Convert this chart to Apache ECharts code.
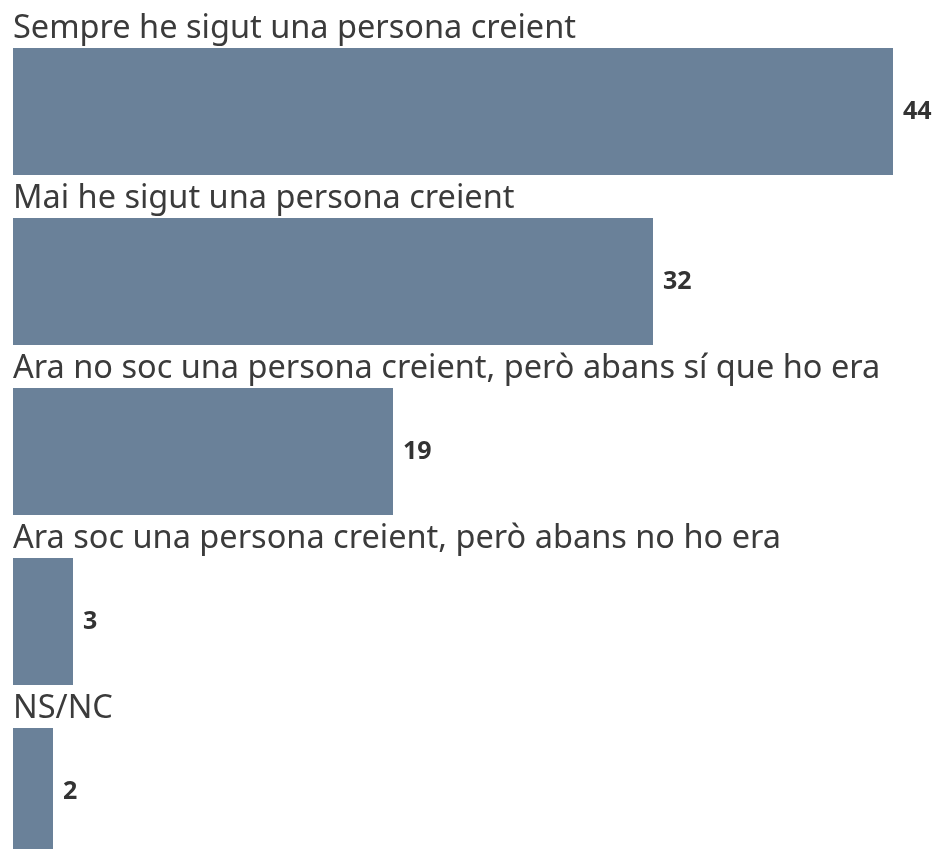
<!DOCTYPE html>
<html>
<head>
<meta charset="utf-8">
<script src="https://cdn.jsdelivr.net/npm/echarts@6/dist/echarts.min.js"></script>
<style>
  html, body { margin: 0; padding: 0; background: #fff; }
  #chart { width: 940px; height: 849px; }
</style>
</head>
<body>
<div id="chart"></div>
<script>
const categories = [
  'Sempre he sigut una persona creient',
  'Mai he sigut una persona creient',
  'Ara no soc una persona creient, però abans sí que ho era',
  'Ara soc una persona creient, però abans no ho era',
  'NS/NC'
];
const values = [44, 32, 19, 3, 2];

const chart = echarts.init(document.getElementById('chart'));
chart.setOption({
  animation: false,
  grid: {
    left: 13, right: 47, top: 26.5, height: 850,
    containLabel: false,
    outerBoundsMode: 'none'
  },
  xAxis: {
    type: 'value', min: 0, max: 44,
    show: false
  },
  yAxis: {
    type: 'category',
    data: categories,
    inverse: true,
    axisLine: { show: false },
    axisTick: { show: false },
    axisLabel: {
      inside: true,
      margin: 0,
      align: 'left',
      verticalAlign: 'bottom',
      padding: [0, 0, 66, 0],
      fontFamily: 'Noto Sans',
      fontSize: 32.5,
      color: '#3b3b3b'
    }
  },
  series: [{
    type: 'bar',
    data: values,
    barWidth: 127,
    itemStyle: { color: '#6a8199' },
    label: {
      show: true,
      position: 'right',
      distance: 10,
      fontFamily: 'Noto Sans',
      fontWeight: 'bold',
      fontSize: 25,
      color: '#333'
    }
  }]
});
</script>
</body>
</html>
